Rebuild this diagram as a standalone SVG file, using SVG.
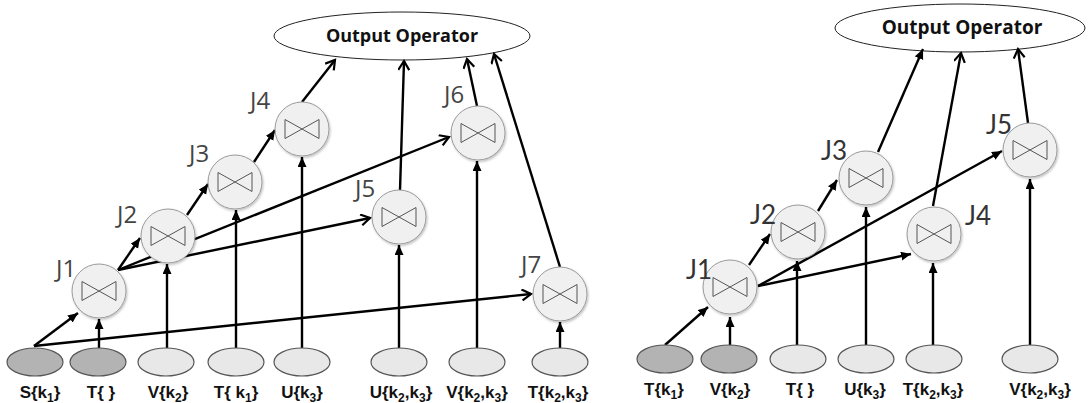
<svg xmlns="http://www.w3.org/2000/svg" width="1088" height="403" viewBox="0 0 1088 403">
  <style>
    .out { fill: #ffffff; stroke: #222; stroke-width: 1; }
    .outtxt { font-family: "Open Sans", "Liberation Sans", sans-serif; font-weight: 700; font-size: 18px; fill: #111; text-anchor: middle; }
    .join { fill: #f0f0f0; stroke: #9a9a9a; stroke-width: 1; filter: url(#shadow); }
    .bow { fill: none; stroke: #555; stroke-width: 1; }
    .jl { font-family: "Open Sans", "DejaVu Sans", sans-serif; font-size: 24px; fill: #444; }
    .jr { font-family: "Lato", "Open Sans", sans-serif; font-size: 26px; fill: #333; }
    .rel-d { fill: #b3b3b3; stroke: #555; stroke-width: 1.2; }
    .rel-l { fill: #e8e8e8; stroke: #555; stroke-width: 1.2; }
    .rl { font-family: "Liberation Sans", Arial, sans-serif; font-weight: 700; font-size: 17px; fill: #111; text-anchor: middle; }
    .sub { font-size: 12px; }
    .e { fill: none; stroke: #000; stroke-width: 2.4; }
    .f { marker-end: url(#tri); }
    .o { marker-end: url(#chev); }
  </style>
  <defs>
    <filter id="shadow" x="-20%" y="-20%" width="150%" height="150%">
      <feDropShadow dx="1" dy="1.5" stdDeviation="1.2" flood-color="#000" flood-opacity="0.25"/>
    </filter>
    <marker id="tri" markerUnits="userSpaceOnUse" markerWidth="12" markerHeight="10" refX="10" refY="4.5" orient="auto">
      <path d="M0,0 L10,4.5 L0,9 z" fill="#000"/>
    </marker>
    <marker id="chev" markerUnits="userSpaceOnUse" markerWidth="14" markerHeight="14" refX="10" refY="6" orient="auto">
      <path d="M1,0.5 L10,6 L1,11.5" fill="none" stroke="#000" stroke-width="2.2"/>
    </marker>
    <g id="bowtie">
      <path class="bow" d="M-17,-9.5 L-17,9.5 L17,-9.5 L17,9.5 Z"/>
    </g>
  </defs>

  <!-- ===== Left plan ===== -->
  <g id="left-output">
    <ellipse class="out" cx="402" cy="36" rx="128" ry="24"/>
    <text class="outtxt" x="402" y="42">Output Operator</text>
  </g>

  <g id="left-edges">
    <line class="e f" x1="34" y1="346" x2="78" y2="313"/>
    <line class="e o" x1="34" y1="346" x2="531" y2="294"/>
    <line class="e f" x1="99" y1="348" x2="99" y2="319"/>
    <line class="e f" x1="118" y1="270" x2="140" y2="238"/>
    <line class="e o" x1="118" y1="270" x2="449" y2="137"/>
    <line class="e o" x1="118" y1="270" x2="370" y2="218"/>
    <line class="e f" x1="167" y1="348" x2="167" y2="264"/>
    <line class="e f" x1="187" y1="215" x2="208" y2="184"/>
    <line class="e f" x1="236" y1="348" x2="236" y2="210"/>
    <line class="e f" x1="254" y1="162" x2="275" y2="130"/>
    <line class="e f" x1="302" y1="348" x2="302" y2="157"/>
    <line class="e o" x1="302" y1="102" x2="335" y2="60"/>
    <line class="e f" x1="399" y1="348" x2="399" y2="245"/>
    <line class="e o" x1="400" y1="190" x2="404" y2="61"/>
    <line class="e f" x1="477" y1="348" x2="477" y2="161"/>
    <line class="e o" x1="477" y1="106" x2="467" y2="59"/>
    <line class="e o" x1="560" y1="267" x2="494" y2="54"/>
    <line class="e f" x1="560" y1="348" x2="560" y2="322"/>
  </g>

  <g id="L-J1"><circle class="join" cx="99" cy="291" r="27"/><use href="#bowtie" x="99" y="291"/><text class="jl" x="56" y="277">J1</text></g>
  <g id="L-J2"><circle class="join" cx="168" cy="236" r="27"/><use href="#bowtie" x="168" y="236"/><text class="jl" x="117" y="223">J2</text></g>
  <g id="L-J3"><circle class="join" cx="235" cy="182" r="27"/><use href="#bowtie" x="235" y="182"/><text class="jl" x="189" y="162">J3</text></g>
  <g id="L-J4"><circle class="join" cx="302" cy="129" r="27"/><use href="#bowtie" x="302" y="129"/><text class="jl" x="250" y="109">J4</text></g>
  <g id="L-J5"><circle class="join" cx="399" cy="217" r="27"/><use href="#bowtie" x="399" y="217"/><text class="jl" x="355" y="197">J5</text></g>
  <g id="L-J6"><circle class="join" cx="478" cy="133" r="27"/><use href="#bowtie" x="478" y="133"/><text class="jl" x="444" y="103">J6</text></g>
  <g id="L-J7"><circle class="join" cx="560" cy="294" r="27"/><use href="#bowtie" x="560" y="294"/><text class="jl" x="521" y="273">J7</text></g>

  <g id="L-S-k1"><ellipse class="rel-d" cx="35" cy="362" rx="28" ry="14"/><text class="rl" x="40" y="398">S{k<tspan class="sub" dy="4">1</tspan><tspan dy="-4">}</tspan></text></g>
  <g id="L-T-empty"><ellipse class="rel-d" cx="98" cy="362" rx="28" ry="14"/><text class="rl" x="101" y="398">T{ }</text></g>
  <g id="L-V-k2"><ellipse class="rel-l" cx="166" cy="362" rx="28" ry="14"/><text class="rl" x="168" y="398">V{k<tspan class="sub" dy="4">2</tspan><tspan dy="-4">}</tspan></text></g>
  <g id="L-T-k1"><ellipse class="rel-l" cx="236" cy="362" rx="28" ry="14"/><text class="rl" x="236" y="398">T{ k<tspan class="sub" dy="4">1</tspan><tspan dy="-4">}</tspan></text></g>
  <g id="L-U-k3"><ellipse class="rel-l" cx="302" cy="362" rx="28" ry="14"/><text class="rl" x="302" y="398">U{k<tspan class="sub" dy="4">3</tspan><tspan dy="-4">}</tspan></text></g>
  <g id="L-U-k2k3"><ellipse class="rel-l" cx="399" cy="362" rx="28" ry="14"/><text class="rl" x="401" y="398">U{k<tspan class="sub" dy="4">2</tspan><tspan dy="-4">,k</tspan><tspan class="sub" dy="4">3</tspan><tspan dy="-4">}</tspan></text></g>
  <g id="L-V-k2k3"><ellipse class="rel-l" cx="477" cy="362" rx="28" ry="14"/><text class="rl" x="477" y="398">V{k<tspan class="sub" dy="4">2</tspan><tspan dy="-4">,k</tspan><tspan class="sub" dy="4">3</tspan><tspan dy="-4">}</tspan></text></g>
  <g id="L-T-k2k3"><ellipse class="rel-l" cx="560" cy="362" rx="28" ry="14"/><text class="rl" x="558" y="398">T{k<tspan class="sub" dy="4">2</tspan><tspan dy="-4">,k</tspan><tspan class="sub" dy="4">3</tspan><tspan dy="-4">}</tspan></text></g>

  <!-- ===== Right plan ===== -->
  <g id="right-output">
    <ellipse class="out" cx="960" cy="28" rx="125" ry="24"/>
    <text class="outtxt" x="962" y="34" style="font-size:19px">Output Operator</text>
  </g>

  <g id="right-edges">
    <line class="e f" x1="665" y1="345" x2="708" y2="307"/>
    <line class="e f" x1="730" y1="345" x2="730" y2="317"/>
    <line class="e f" x1="749" y1="265" x2="770" y2="234"/>
    <line class="e f" x1="758" y1="286" x2="911" y2="254"/>
    <line class="e f" x1="758" y1="286" x2="1002" y2="151"/>
    <line class="e f" x1="797" y1="345" x2="797" y2="261"/>
    <line class="e f" x1="818" y1="211" x2="837" y2="180"/>
    <line class="e f" x1="866" y1="345" x2="866" y2="207"/>
    <line class="e f" x1="933" y1="345" x2="933" y2="263"/>
    <line class="e f" x1="1030" y1="345" x2="1030" y2="179"/>
    <line class="e f" x1="878" y1="152" x2="923" y2="49"/>
    <line class="e o" x1="933" y1="206" x2="961" y2="53"/>
    <line class="e o" x1="1028" y1="123" x2="1018" y2="49"/>
  </g>

  <g id="R-J1"><circle class="join" cx="730" cy="287" r="27"/><use href="#bowtie" x="730" y="287"/><text class="jr" x="686" y="279">J1</text></g>
  <g id="R-J2"><circle class="join" cx="798" cy="232" r="27"/><use href="#bowtie" x="798" y="232"/><text class="jr" x="750" y="224">J2</text></g>
  <g id="R-J3"><circle class="join" cx="866" cy="178" r="27"/><use href="#bowtie" x="866" y="178"/><text class="jr" x="821" y="160">J3</text></g>
  <g id="R-J4"><circle class="join" cx="934" cy="234" r="27"/><use href="#bowtie" x="934" y="234"/><text class="jr" x="965" y="225">J4</text></g>
  <g id="R-J5"><circle class="join" cx="1030" cy="150" r="27"/><use href="#bowtie" x="1030" y="150"/><text class="jr" x="986" y="134">J5</text></g>

  <g id="R-T-k1"><ellipse class="rel-d" cx="665" cy="359" rx="28" ry="14"/><text class="rl" x="664" y="395">T{k<tspan class="sub" dy="4">1</tspan><tspan dy="-4">}</tspan></text></g>
  <g id="R-V-k2"><ellipse class="rel-d" cx="729" cy="359" rx="28" ry="14"/><text class="rl" x="730" y="395">V{k<tspan class="sub" dy="4">2</tspan><tspan dy="-4">}</tspan></text></g>
  <g id="R-T-empty"><ellipse class="rel-l" cx="798" cy="359" rx="28" ry="14"/><text class="rl" x="800" y="395">T{ }</text></g>
  <g id="R-U-k3"><ellipse class="rel-l" cx="866" cy="359" rx="28" ry="14"/><text class="rl" x="865" y="395">U{k<tspan class="sub" dy="4">3</tspan><tspan dy="-4">}</tspan></text></g>
  <g id="R-T-k2k3"><ellipse class="rel-l" cx="934" cy="359" rx="28" ry="14"/><text class="rl" x="933" y="395">T{k<tspan class="sub" dy="4">2</tspan><tspan dy="-4">,k</tspan><tspan class="sub" dy="4">3</tspan><tspan dy="-4">}</tspan></text></g>
  <g id="R-V-k2k3"><ellipse class="rel-l" cx="1030" cy="359" rx="28" ry="14"/><text class="rl" x="1040" y="395">V{k<tspan class="sub" dy="4">2</tspan><tspan dy="-4">,k</tspan><tspan class="sub" dy="4">3</tspan><tspan dy="-4">}</tspan></text></g>
</svg>
